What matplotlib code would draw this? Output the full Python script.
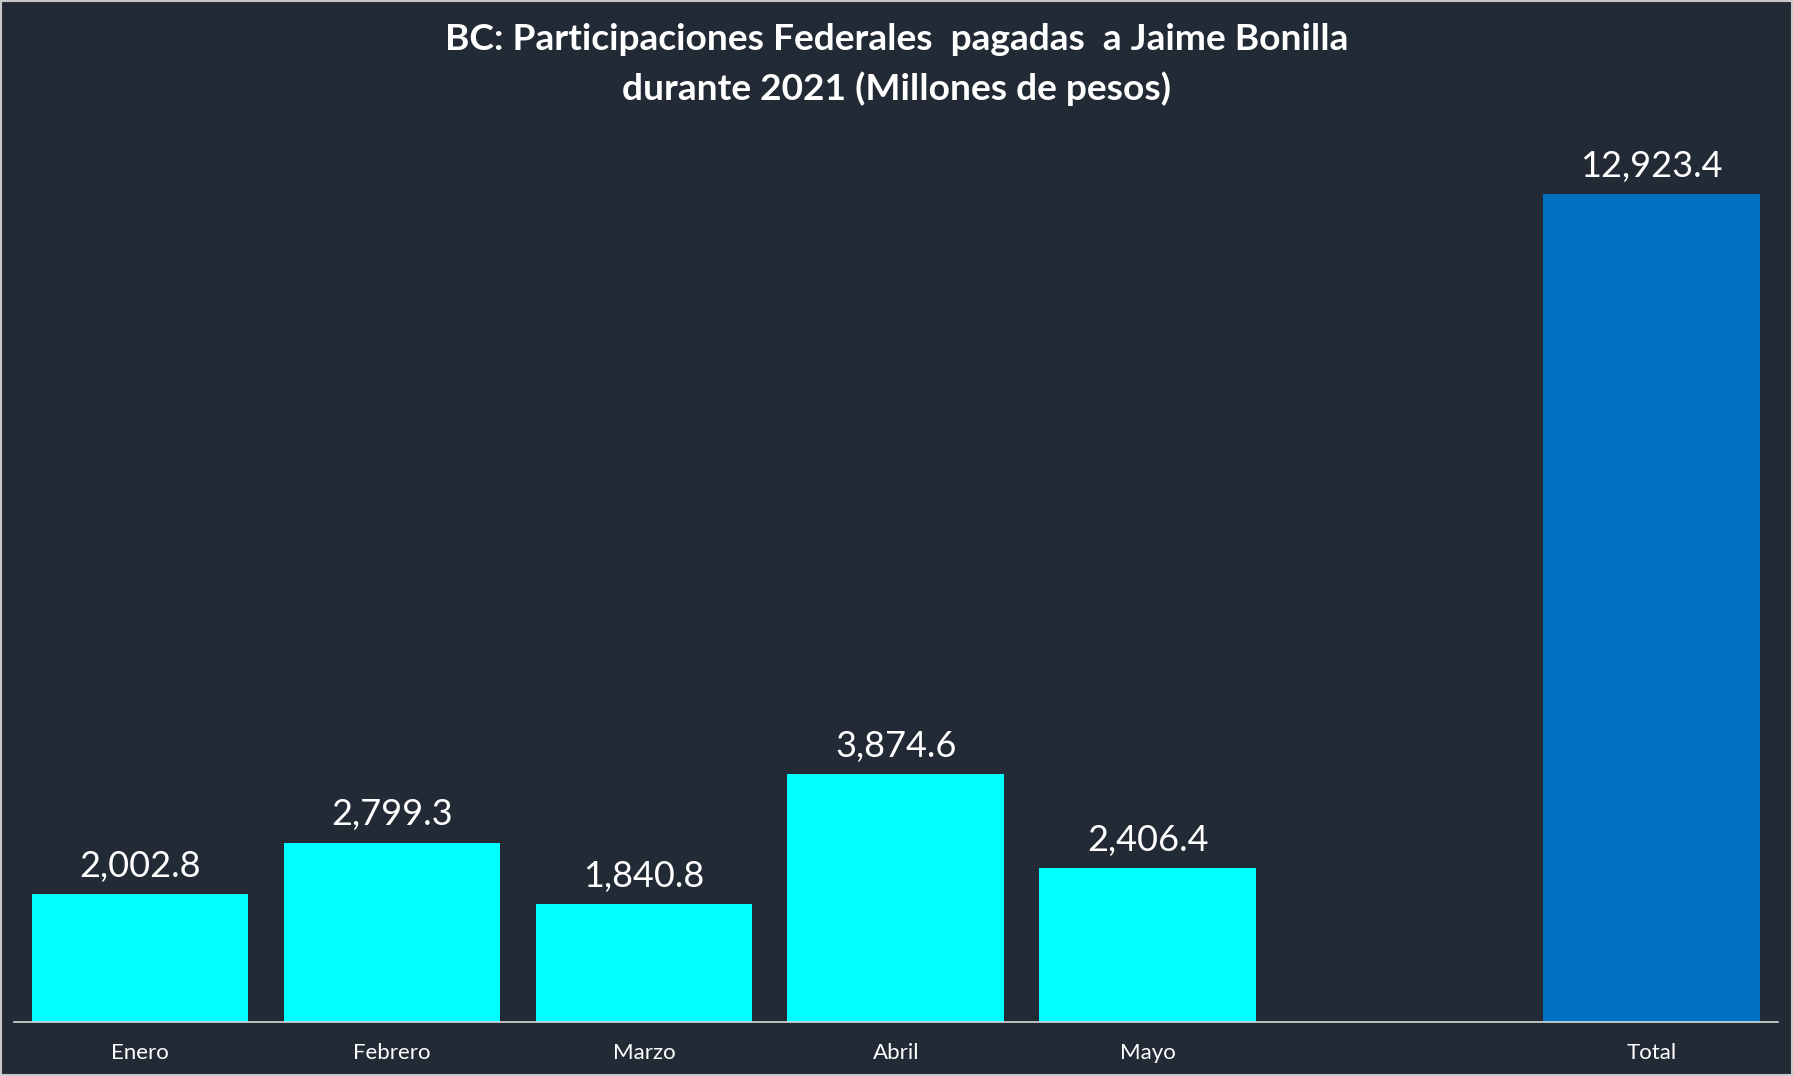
import numpy as np
import matplotlib.pyplot as plt
from matplotlib.patches import Rectangle

categories = ['Enero', 'Febrero', 'Marzo', 'Abril', 'Mayo', '', 'Total']
values = [2002.8, 2799.3, 1840.8, 3874.6, 2406.4, np.nan, 12923.4]
labels = ['2,002.8', '2,799.3', '1,840.8', '3,874.6', '2,406.4', '', '12,923.4']
colors = ['#00ffff', '#00ffff', '#00ffff', '#00ffff', '#00ffff', '#00ffff', '#0070c0']

bg = '#222a35'
plt.rcParams['font.family'] = ['Lato', 'DejaVu Sans']

fig = plt.figure(figsize=(17.93, 10.76), dpi=100, facecolor=bg)
ax = fig.add_axes([0.0078, 0.0502, 0.9836, 0.8338])
ax.set_facecolor(bg)

x_pos = np.arange(len(categories))
bars = ax.bar(x_pos, values, width=0.86, color=colors)

for i in range(len(values)):
    if labels[i] == '':
        continue
    ax.annotate(labels[i], (x_pos[i], values[i]), xytext=(0, 8), textcoords='offset points',
                ha='center', va='bottom', color='white', fontsize=26)

ax.set_xlim(-0.5, len(categories) - 0.5)
ax.set_ylim(0, 14000)
ax.set_xticks(x_pos)
ax.set_xticklabels(categories, fontsize=16, color='white')
ax.tick_params(axis='x', length=0, pad=15)
ax.set_yticks([])
for s in ['top', 'right', 'left']:
    ax.spines[s].set_visible(False)
ax.spines['bottom'].set_color('#d9d9d9')
ax.spines['bottom'].set_linewidth(1.2)

fig.text(0.5, 0.979, 'BC: Participaciones Federales  pagadas  a Jaime Bonilla\ndurante 2021 (Millones de pesos)',
         ha='center', va='top', color='white', fontsize=26.7, fontweight='bold', linespacing=1.55)

fig.patches.append(Rectangle((0.0005, 0.0008), 0.999, 0.9985, transform=fig.transFigure,
                             fill=False, edgecolor='#c8c8c8', linewidth=1.5))

fig.savefig('out.png', facecolor=bg)
